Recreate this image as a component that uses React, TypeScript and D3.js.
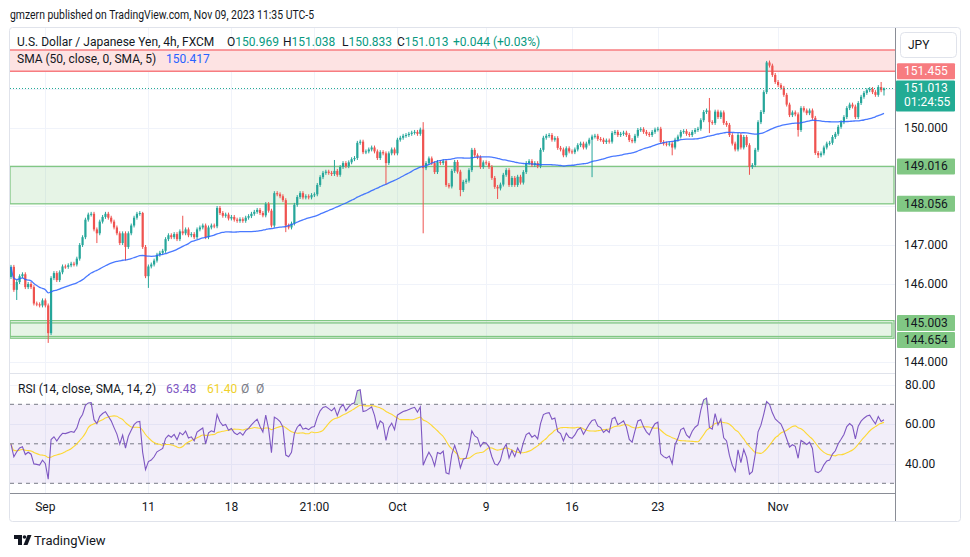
import React from "react";
import * as d3 from "d3";

// ---------- data ----------
const firstOpen = 146.18;
const closes = [
  146.44, 145.85, 146.05, 146.2, 146.25, 145.92, 146.0, 145.92, 145.5, 145.48,
  145.45, 145.58, 145.45, 144.74, 146.15, 146.28, 146.1, 146.3, 146.45, 146.44,
  146.48, 146.52, 146.5, 146.65, 147.0, 147.2, 147.65, 147.78, 147.8, 147.4,
  147.3, 147.6, 147.72, 147.8, 147.7, 147.6, 147.45, 147.3, 147.05, 147.3,
  146.95, 147.3, 147.5, 147.7, 147.8, 147.82, 146.95, 146.2, 146.45, 146.5,
  146.6, 146.75, 146.8, 146.85, 147.15, 147.25, 147.2, 147.28, 147.15, 147.35,
  147.3, 147.4, 147.25, 147.28, 147.2, 147.4, 147.45, 147.5, 147.2, 147.45,
  147.5, 147.48, 147.95, 147.82, 147.75, 147.78, 147.68, 147.72, 147.65, 147.62,
  147.66, 147.62, 147.7, 147.74, 147.8, 147.85, 147.9, 147.82, 147.76, 148.05,
  147.88, 147.5, 148.33, 148.3, 148.25, 148.15, 147.5, 147.45, 147.55, 148.03,
  148.23, 148.33, 148.22, 148.25, 148.22, 148.28, 148.3, 148.54, 148.74, 148.85,
  148.88, 148.85, 148.82, 148.9, 148.8, 149.0, 149.1, 149.02, 149.12, 149.2,
  149.23, 149.62, 149.65, 149.38, 149.4, 149.45, 149.5, 149.4, 149.23, 149.38,
  149.35, 149.1, 149.35, 149.45, 149.35, 149.7, 149.75, 149.8, 149.82, 149.85,
  149.88, 149.9, 149.85, 149.96, 148.97, 149.1, 149.22, 149.1, 148.87, 149.13,
  149.1, 149.15, 148.54, 148.5, 148.9, 149.13, 148.88, 148.41, 148.62, 148.65,
  148.92, 149.44, 149.3, 149.25, 149.0, 149.12, 149.1, 149.0, 148.72, 148.49,
  148.45, 148.55, 148.8, 148.92, 148.54, 148.72, 148.54, 148.75, 148.6, 148.87,
  149.1, 149.15, 149.05, 149.1, 149.02, 149.44, 149.75, 149.8, 149.82, 149.7,
  149.74, 149.49, 149.45, 149.3, 149.48, 149.4, 149.38, 149.45, 149.56, 149.6,
  149.5, 149.6, 149.7, 149.78, 149.8, 149.72, 149.7, 149.64, 149.68, 149.65,
  149.87, 149.9, 149.82, 149.85, 149.88, 149.82, 149.69, 149.66, 149.8, 149.95,
  149.97, 149.9, 149.85, 149.82, 149.9, 149.96, 149.98, 149.64, 149.6, 149.58,
  149.6, 149.5, 149.7, 149.78, 149.9, 149.92, 149.85, 149.82, 149.9, 149.95,
  149.98, 150.2, 150.41, 150.45, 150.15, 150.13, 150.42, 150.28, 150.4, 150.13,
  150.08, 149.82, 149.6, 149.45, 149.82, 149.5, 149.77, 149.56, 149.0, 149.05,
  149.44, 150.15, 150.41, 150.92, 151.68, 151.6, 151.36, 151.18, 151.1, 151.03,
  150.85, 150.6, 150.33, 150.4, 150.35, 149.95, 150.51, 150.45, 150.38, 150.45,
  150.26, 149.36, 149.3, 149.35, 149.5, 149.6, 149.62, 149.77, 149.85, 150.03,
  150.15, 150.28, 150.51, 150.6, 150.55, 150.28, 150.64, 150.8, 150.9, 150.97,
  151.0, 150.92, 150.85, 151.05, 150.969, 151.013,
];
const wickHighs: [number, number][] = [
  [46, 147.85], [60, 147.75], [113, 149.18], [144, 150.15], [244, 150.77],
  [264, 151.72], [304, 151.18], [305, 151.038],
];
const wickLows: [number, number][] = [
  [2, 145.59], [13, 144.49], [30, 147.05], [40, 146.6], [48, 145.9], [96, 147.33],
  [131, 148.54], [144, 147.3], [157, 148.25], [170, 148.18], [203, 148.74],
  [231, 149.3], [244, 149.87], [258, 148.8], [275, 149.78], [282, 149.23], [305, 150.833],
];

const timeLabels = ["Sep", "11", "18", "21:00", "Oct", "9", "16", "23", "Nov"];
const timeLabelBars = [12, 48, 77, 106, 135, 166, 196, 226, 268];

const priceTickLabels = [150, 147, 146, 144];
const gridPrices = [144, 145, 146, 147, 148, 149, 150, 151, 152];
const rsiTickLabels = [80, 60, 40];
const rsiDashed = [70, 50, 30];

const redZone = [151.455, 152.0];
const greenZones: [number, number][] = [[148.056, 149.016], [144.654, 145.003], [144.61, 145.06]];

const levelPrices = [151.455, 149.016, 148.056, 145.003, 144.654];
const levelTexts = ["151.455", "149.016", "148.056", "145.003", "144.654"];
const levelKinds = ["red", "green", "green", "green", "green"];

const lastPrice = 151.013;
const countdown = "01:24:55";

const publishLine = "gmzern published on TradingView.com, Nov 09, 2023 11:35 UTC-5";
const headerTitle = "U.S. Dollar / Japanese Yen, 4h, FXCM";
const ohlcLetters = ["O", "H", "L", "C"];
const ohlcValues = ["150.969", "151.038", "150.833", "151.013"];
const changeText = "+0.044 (+0.03%)";
const smaLegend = "SMA (50, close, 0, SMA, 5)";
const smaValue = "150.417";
const rsiLegend = "RSI (14, close, SMA, 14, 2)";
const rsiValue = "63.48";
const rsiMaValue = "61.40";

const FONT = "'Trebuchet MS', Roboto, 'Noto Sans', sans-serif";
const UP = "#26a69a";
const DOWN = "#ef5350";

export default function App() {
  const n = closes.length;
  const left = 10, right = 895;
  const mainTop = 28, mainBottom = 373;
  const rsiTop = 374, rsiBottom = 493;

  const x = d3.scaleLinear().domain([0, n - 1]).range([11, 884]);
  const y = d3.scaleLinear().domain([144, 150]).range([362, 128]);
  const yr = d3.scaleLinear().domain([30, 70]).range([483.3, 404.3]);

  const opens = closes.map((c, i) => (i === 0 ? firstOpen : closes[i - 1]));
  const hiMap = new Map(wickHighs);
  const loMap = new Map(wickLows);
  const wick = 0.05;
  const highs = closes.map((c, i) => Math.max(hiMap.get(i) ?? -Infinity, Math.max(c, opens[i]) + (hiMap.has(i) ? 0 : wick)));
  const lows = closes.map((c, i) => Math.min(loMap.get(i) ?? Infinity, Math.min(c, opens[i]) - (loMap.has(i) ? 0 : wick)));

  // SMA 50
  const sma = closes.map((_, i) => d3.mean(closes.slice(Math.max(0, i - 49), i + 1)) as number);

  // RSI 14 (Wilder)
  const changes = closes.map((c, i) => c - opens[i]);
  let avgG = d3.mean(changes.slice(1, 15).map((v) => Math.max(v, 0))) as number;
  let avgL = d3.mean(changes.slice(1, 15).map((v) => Math.max(-v, 0))) as number;
  const rsi = changes.map((ch) => {
    avgG = (avgG * 13 + Math.max(ch, 0)) / 14;
    avgL = (avgL * 13 + Math.max(-ch, 0)) / 14;
    return avgL === 0 ? 100 : 100 - 100 / (1 + avgG / avgL);
  });
  const rsiMa = rsi.map((_, i) => d3.mean(rsi.slice(Math.max(0, i - 13), i + 1)) as number);

  const smaPath = d3.line<number>().x((_, i) => x(i)).y((d) => y(d)).curve(d3.curveMonotoneX)(sma) || "";
  const rsiPath = d3.line<number>().x((_, i) => x(i)).y((d) => yr(d))(rsi) || "";
  const rsiMaPath = d3.line<number>().x((_, i) => x(i)).y((d) => yr(d)).curve(d3.curveMonotoneX)(rsiMa) || "";
  const obArea = d3.area<number>().x((_, i) => x(i)).y0(yr(70)).y1((d) => yr(Math.max(d, 70)))(rsi) || "";
  const osArea = d3.area<number>().x((_, i) => x(i)).y0(yr(30)).y1((d) => yr(Math.min(d, 30)))(rsi) || "";

  // level labels with overlap push
  const labelH = 16;
  const levelYs: number[] = [];
  levelPrices.forEach((p, i) => {
    let yy = y(p);
    if (i > 0 && yy - levelYs[i - 1] < labelH + 1) yy = levelYs[i - 1] + labelH + 1;
    levelYs.push(yy);
  });

  const lastY = y(lastPrice);

  return (
    <svg width={970} height={557} style={{ position: "absolute", left: 0, top: 0, display: "block", background: "#fff" }} fontFamily={FONT}>
      <defs>
        <clipPath id="mainClip"><rect x={left} y={mainTop} width={right - left} height={mainBottom - mainTop} /></clipPath>
        <clipPath id="rsiClip"><rect x={left} y={rsiTop} width={right - left} height={rsiBottom - rsiTop} /></clipPath>
      </defs>
      <rect x={0} y={0} width={970} height={557} fill="#fff" />
      <text x={10} y={19} fontSize={12} fill="#131722" textLength={304} lengthAdjust="spacingAndGlyphs">{publishLine}</text>

      {/* frame */}
      <rect x={9.5} y={27.5} width={951} height={494} fill="none" stroke="#e0e3eb" rx={3} />

      {/* vertical grid */}
      {timeLabelBars.map((b, i) => (
        <line key={"vg" + i} x1={Math.round(x(b)) + 0.5} x2={Math.round(x(b)) + 0.5} y1={mainTop} y2={rsiBottom} stroke="#f0f3fa" />
      ))}
      {/* horizontal grid main */}
      <g clipPath="url(#mainClip)">
        {gridPrices.map((p) => (
          <line key={"hg" + p} x1={left} x2={right} y1={Math.round(y(p)) + 0.5} y2={Math.round(y(p)) + 0.5} stroke="#f0f3fa" />
        ))}
        {/* zones */}
        <rect x={left} y={y(redZone[1])} width={right - left} height={y(redZone[0]) - y(redZone[1])} fill="#fde3e3" />
        <line x1={left} x2={right} y1={y(redZone[1])} y2={y(redZone[1])} stroke="#f77c80" strokeWidth={1.5} />
        <line x1={left} x2={right} y1={y(redZone[0])} y2={y(redZone[0])} stroke="#f77c80" strokeWidth={1.5} />
        {greenZones.map(([lo, hi], i) => (
          <rect key={"gz" + i} x={left} y={y(hi)} width={right - left - (i === 1 ? 3 : 1)} height={y(lo) - y(hi)} fill={i === 2 ? "none" : "rgba(129,199,132,0.2)"} stroke="#81c784" strokeWidth={1.3} />
        ))}
        {/* candles */}
        {closes.map((c, i) => {
          const o = opens[i];
          const col = c >= o ? UP : DOWN;
          const cx = x(i);
          const top = y(Math.max(o, c));
          const bh = Math.max(1, y(Math.min(o, c)) - top);
          return (
            <g key={"c" + i}>
              <rect x={cx - 0.5} y={y(highs[i])} width={1} height={y(lows[i]) - y(highs[i])} fill={col} />
              <rect x={cx - 1.1} y={top} width={2.2} height={bh} fill={col} />
            </g>
          );
        })}
        <path d={smaPath} fill="none" stroke="#2962ff" strokeWidth={1.3} strokeOpacity={0.85} />
        <line x1={left} x2={right} y1={lastY} y2={lastY} stroke="#22ab94" strokeWidth={1} strokeDasharray="1,2" />
      </g>

      {/* pane separator */}
      <line x1={left} x2={right} y1={373.5} y2={373.5} stroke="#e0e3eb" />

      {/* RSI pane */}
      <g clipPath="url(#rsiClip)">
        {rsiTickLabels.map((r) => (
          <line key={"rg" + r} x1={left} x2={right} y1={Math.round(yr(r)) + 0.5} y2={Math.round(yr(r)) + 0.5} stroke="#f0f3fa" />
        ))}
        <rect x={left} y={yr(70)} width={right - left} height={yr(30) - yr(70)} fill="rgba(126,87,194,0.1)" />
        {rsiDashed.map((r) => (
          <line key={"rd" + r} x1={left} x2={right} y1={yr(r)} y2={yr(r)} stroke="#787b86" strokeDasharray="4,4" strokeWidth={1} />
        ))}
        <path d={obArea} fill="rgba(76,175,80,0.25)" />
        <path d={osArea} fill="rgba(242,54,69,0.2)" />
        <path d={rsiMaPath} fill="none" stroke="#fdd835" strokeWidth={1.1} />
        <path d={rsiPath} fill="none" stroke="#7e57c2" strokeWidth={1.1} />
      </g>

      {/* axes lines */}
      <line x1={left} x2={right} y1={493.5} y2={493.5} stroke="#8a8d96" />
      <line x1={895.5} x2={895.5} y1={mainTop} y2={521} stroke="#8a8d96" />

      {/* time labels */}
      {timeLabels.map((t, i) => (
        <text key={"tl" + i} x={x(timeLabelBars[i])} y={511} fontSize={12} fill="#131722" textAnchor="middle">{t}</text>
      ))}

      {/* price labels */}
      {priceTickLabels.map((p) => (
        <text key={"pl" + p} x={904} y={y(p) + 4} fontSize={12} fill="#131722">{p.toFixed(3)}</text>
      ))}
      {rsiTickLabels.map((r) => (
        <text key={"rl" + r} x={905} y={yr(r) + 4} fontSize={12} fill="#131722">{r.toFixed(2)}</text>
      ))}

      {/* level labels */}
      {levelPrices.map((p, i) => {
        const ly = levelYs[i];
        const red = levelKinds[i] === "red";
        return (
          <g key={"lv" + i}>
            <rect x={897} y={ly - 8} width={58} height={16} fill={red ? "#f77c80" : "#81c784"} rx={1} />
            <text x={904} y={ly + 4} fontSize={12} fill={red ? "#fff" : "#131722"}>{levelTexts[i]}</text>
          </g>
        );
      })}
      {/* last price label */}
      <rect x={896} y={lastY - 8} width={59} height={31} fill="#22ab94" rx={1} />
      <text x={904} y={lastY + 4} fontSize={12} fill="#fff">{lastPrice.toFixed(3)}</text>
      <text x={904} y={lastY + 18} fontSize={12} fill="#fff">{countdown}</text>

      {/* JPY box */}
      <rect x={900.5} y={32.5} width={56} height={25} fill="#fff" stroke="#e0e3eb" rx={4} />
      <text x={908} y={49} fontSize={12} fill="#131722">JPY</text>

      {/* header legends */}
      <text x={17} y={46} fontSize={12} fill="#131722">{headerTitle}</text>
      {ohlcLetters.map((l, i) => (
        <text key={"oh" + i} x={[227, 283, 342, 397][i]} y={46} fontSize={12} fill="#131722">
          {l}<tspan fill="#089981">{ohlcValues[i]}</tspan>
        </text>
      ))}
      <text x={453} y={46} fontSize={12} fill="#089981">{changeText}</text>
      <text x={17} y={63} fontSize={12} fill="#131722">{smaLegend}</text>
      <text x={166} y={63} fontSize={12} fill="#2962ff">{smaValue}</text>

      <text x={18} y={393} fontSize={12} fill="#131722">{rsiLegend}</text>
      <text x={166} y={393} fontSize={12} fill="#7e57c2">{rsiValue}</text>
      <text x={207} y={393} fontSize={12} fill="#f0d12a">{rsiMaValue}</text>
      <text x={241} y={393} fontSize={12} fill="#787b86">Ø</text>
      <text x={256} y={393} fontSize={12} fill="#787b86">Ø</text>

      {/* logo */}
      <g fill="#131722">
        <path d="M14 535 h8 v10 h-4 v-6 h-4 z" />
        <circle cx={24.5} cy={537} r={1.8} />
        <path d="M27.5 535 h4 l-4 10 h-4 z" />
      </g>
      <text x={34} y={545} fontSize={13} fill="#131722">TradingView</text>
    </svg>
  );
}
